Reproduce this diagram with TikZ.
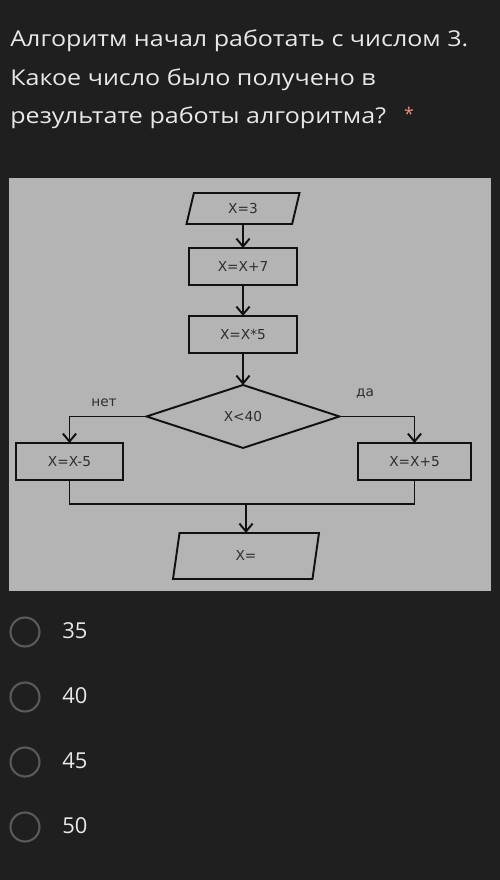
\documentclass[tikz,border=0pt]{standalone}
\usepackage{fontspec}
\usetikzlibrary{arrows.meta, positioning, shapes.geometric}
\newfontfamily\uifont{Open Sans}
\newfontfamily\uiwide[FakeStretch=1.15]{Open Sans}
\newfontfamily\chartfont{DejaVu Sans}
\definecolor{bgdark}{HTML}{1F1F1F}
\definecolor{panelgrey}{HTML}{B4B4B4}
\definecolor{uitext}{HTML}{E8E8E8}
\definecolor{radiogrey}{HTML}{5A5A5A}
\definecolor{reqred}{HTML}{F28B82}
\definecolor{flowline}{HTML}{111111}
\definecolor{charttext}{HTML}{2E2E2E}

\begin{document}
\begin{tikzpicture}[
    x=0.02cm, y=-0.02cm,
    heading/.style={anchor=base west, inner sep=0pt, text=uitext,
                    font=\uiwide\fontsize{12.4}{14}\selectfont},
    box/.style={rectangle, draw=flowline, fill=panelgrey, minimum width=2.16cm,
                minimum height=0.74cm, inner sep=0pt, outer sep=0pt, text=charttext,
                font=\chartfont\fontsize{7.8}{9}\selectfont, line width=1.1pt},
    io/.style={trapezium, trapezium left angle=#1, trapezium right angle=180-#1,
               trapezium stretches body, draw=flowline, fill=panelgrey, inner sep=0pt,
               outer sep=0pt, text=charttext, font=\chartfont\fontsize{7.8}{9}\selectfont,
               line width=1.1pt},
    cond/.style={diamond, draw=flowline, fill=panelgrey, minimum width=3.86cm,
                 minimum height=1.26cm, aspect=3, inner sep=0pt, outer sep=0pt,
                 text=charttext, font=\chartfont\fontsize{7.8}{9}\selectfont,
                 line width=1.1pt},
    lbl/.style={inner sep=0pt, text=charttext, font=\chartfont\fontsize{7.8}{9}\selectfont},
    arrow/.style={-{Straight Barb[length=4.5pt, width=7.5pt]}, line width=1.1pt, flowline},
    radio/.style={circle, draw=radiogrey, line width=1.2pt, minimum size=0.58cm, inner sep=0pt},
    answer/.style={anchor=base west, inner sep=0pt, text=uitext,
                   font=\uifont\fontsize{12.5}{14}\selectfont}
  ]
    \fill[bgdark] (0,0) rectangle (500,880);
    \fill[panelgrey] (9,178) rectangle (491,591);

    % question
    \node[heading] (q1) at (10,46) {Алгоритм начал работать с числом 3.};
    \node[heading] (q2) at (10,85) {Какое число было получено в};
    \node[heading] (q3) at (10,123) {результате работы алгоритма?};
    \node[inner sep=0pt, text=reqred, font=\uifont\fontsize{10}{10}\selectfont] (req) at (409,114) {*};

    % flowchart
    \node[io=54.6, minimum width=2.26cm, minimum height=0.62cm] (start) at (243,208.5) {X=3};
    \node[box, below=0.48cm of start] (add) {X=X+7};
    \node[box, below=0.62cm of add] (mul) {X=X*5};
    \node[cond, below=0.64cm of mul] (test) {X<40};
    \node[box, minimum width=2.14cm] (minus) at (69.5,461.5) {X=X-5};
    \node[box, minimum width=2.26cm] (plus) at (414.5,461.5) {X=X+5};
    \node[lbl] (no) at (104,403) {нет};
    \node[lbl] (yes) at (365,394) {да};
    \coordinate (join) at (246,504);
    \node[io=56.9, minimum width=2.92cm, minimum height=0.92cm, below=0.58cm of join] (result) {X=};

    \draw[arrow] (start) -- (add);
    \draw[arrow] (add) -- (mul);
    \draw[arrow] (mul) -- (test);
    \draw[arrow] (test.west) -| (minus.north);
    \draw[arrow] (test.east) -| (plus.north);
    \draw[line width=1.1pt, flowline] (minus.south) |- (join) -| (plus.south);
    \draw[arrow] (join) -- (result);

    % answers
    \foreach \v [count=\i] in {35,40,45,50} {
      \node[radio] (radio\i) at (25,567+65*\i) {};
      \node[answer] (opt\i) at (62,573+65*\i) {\v};
    }
  \end{tikzpicture}
\end{document}
